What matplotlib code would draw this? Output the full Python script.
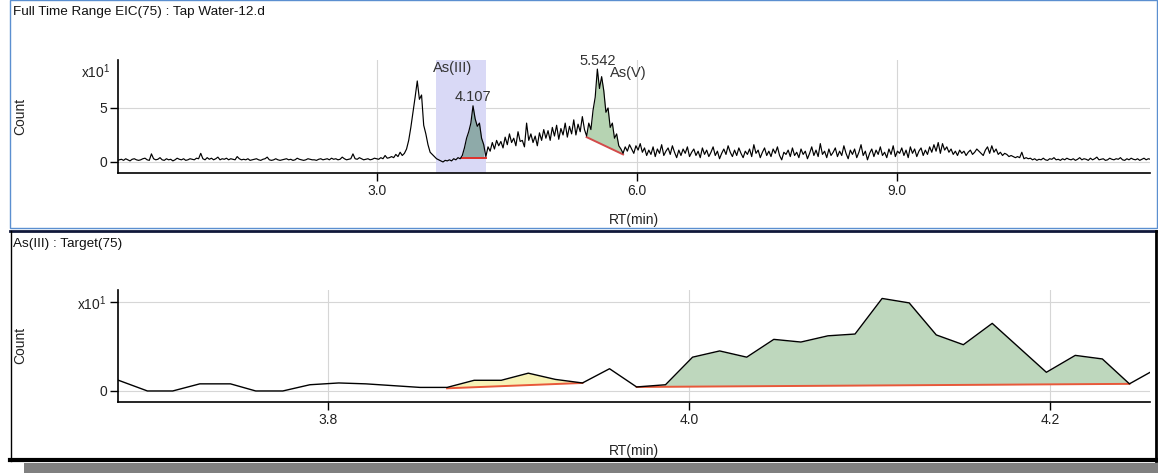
import numpy as np
import matplotlib
matplotlib.use("Agg")
import matplotlib.pyplot as plt
from matplotlib.patches import Rectangle
from matplotlib.lines import Line2D

plt.rcParams["font.family"] = ["Liberation Sans", "DejaVu Sans"]
plt.rcParams["font.size"] = 10
plt.rcParams["mathtext.fontset"] = "custom"
plt.rcParams["mathtext.rm"] = "Liberation Sans"
plt.rcParams["mathtext.it"] = "Liberation Sans"

# --- full time range EIC (counts x10^1), one value per scan, scan step in min ---
scan_step = 0.024741
eic_start = [
    0.1, 0.2, 0.25, 0.15, 0.3, 0.2, 0.1, 0.25, 0.3, 0.2, 0.15, 0.2, 0.3, 0.35, 0.2, 0.15, 0.75, 0.3, 0.2, 0.25,
    0.4, 0.2, 0.15, 0.3, 0.2, 0.25, 0.1, 0.2, 0.35, 0.25, 0.2, 0.3, 0.15, 0.2, 0.3, 0.25, 0.2, 0.35, 0.3, 0.8,
    0.3, 0.2, 0.4, 0.25, 0.35, 0.2, 0.3, 0.45, 0.2, 0.3, 0.25, 0.35, 0.2, 0.3, 0.25, 0.2, 0.5, 0.3, 0.2, 0.25,
    0.2, 0.3, 0.15, 0.2, 0.25, 0.3, 0.2, 0.15, 0.25, 0.3, 0.45, 0.2, 0.15, 0.2, 0.3, 0.2, 0.15, 0.2, 0.25, 0.3,
    0.2, 0.25, 0.15, 0.2, 0.35, 0.25, 0.2, 0.15, 0.2, 0.3, 0.25, 0.2, 0.2, 0.15, 0.25, 0.3, 0.2, 0.25, 0.3, 0.2,
    0.35, 0.25, 0.3, 0.2, 0.25, 0.45, 0.3, 0.2, 0.25, 0.3, 0.75, 0.3, 0.25, 0.4, 0.3, 0.2, 0.25, 0.3, 0.2, 0.25,
    0.35, 0.3, 0.25, 0.4, 0.3, 0.6, 0.35, 0.4, 0.5, 0.4, 0.7, 0.5, 0.9, 0.6,
]
eic_first_peak = [0.8, 1.2, 2.0, 3.2, 4.6, 6.0, 7.5, 5.8, 6.2, 3.4, 2.6, 1.6, 0.9, 0.7]
eic_gap = [0.5, 0.3, 0.2, 0.1, 0.0, 0.15, 0.1, 0.2, 0.1, 0.3, 0.2, 0.4, 0.3]
eic_as3 = [0.6, 1.3, 2.2, 2.8, 3.6, 5.2, 4.0, 3.3, 3.6, 2.2, 1.6, 0.5]
eic_hump = [
    1.4, 1.0, 1.8, 1.2, 2.0, 1.5, 1.9, 1.3, 2.3, 1.6, 2.6, 1.8, 2.2, 1.5, 2.8, 1.9, 2.0, 1.4, 3.6, 2.0,
    2.6, 1.8, 2.4, 1.5, 2.7, 2.0, 3.0, 2.2, 2.9, 2.0, 3.2, 2.4, 3.4, 2.1, 3.1, 2.5, 3.6, 2.3, 3.3, 2.6,
    3.9, 2.5, 3.5, 2.8, 4.2, 3.0,
]
eic_as5 = [2.4, 3.6, 3.0, 4.8, 6.0, 8.6, 6.8, 7.9, 6.6, 4.6, 5.0, 3.2, 3.6, 2.2, 2.6, 1.5, 1.2, 0.8]
eic_mid = [
    1.4, 1.0, 1.6, 1.2, 0.8, 1.5, 1.1, 1.7, 0.9, 1.3, 0.6, 1.1, 0.7, 1.4, 0.5, 1.2, 0.8, 1.6, 0.6, 1.0,
    1.3, 0.7, 1.5, 0.9, 0.4, 1.1, 0.6, 1.2, 0.8, 1.4, 0.5, 0.9, 1.2, 0.6, 1.0, 0.4, 1.3, 0.7, 1.1, 0.5,
    0.9, 1.4, 0.6, 1.0, 0.3, 0.8, 1.2, 0.7, 1.5, 0.9, 0.5, 1.1, 0.6, 1.3, 0.8, 0.4, 1.0, 0.7, 1.2, 0.5,
    1.6, 0.8, 1.1, 0.4, 0.9, 1.3, 0.6, 1.0, 0.5, 1.2, 0.8, 1.4, 0.6, 0.2, 0.9, 0.7, 1.1, 0.5, 1.3, 0.6,
    0.9, 0.4, 1.2, 0.7, 1.0, 0.3, 0.8, 1.4, 0.6, 1.1, 0.5, 1.7, 0.7, 1.0, 0.4, 1.2, 0.6, 0.9, 1.3, 0.5,
    1.0, 0.6, 1.5, 0.8, 0.3, 1.1, 0.7, 1.2, 0.4, 0.9, 1.6, 0.6, 1.0, 0.2, 0.8, 1.2, 0.5, 1.1, 0.7, 1.4,
    0.6, 0.9, 0.4, 1.2, 0.7, 1.5, 0.5, 1.0, 0.8, 1.3, 0.6, 1.1, 0.4, 1.4, 0.8, 1.2, 0.5, 1.0, 1.3, 0.6,
    1.1, 0.7, 1.4, 0.9, 1.6, 1.0, 1.8, 0.8, 1.7, 1.1, 1.4, 0.9, 1.2, 0.7, 1.0, 0.6, 1.1, 0.8, 1.0, 0.6,
    0.9, 1.1, 0.7, 0.9, 1.2, 1.0, 0.8, 0.6, 1.1, 1.4, 0.8, 1.5, 0.9, 1.2, 0.7, 0.9, 0.6, 0.8, 0.7, 0.5,
    0.6, 0.5, 0.4, 0.5, 0.4, 0.9, 0.3, 0.4, 0.3, 0.35,
]
eic_tail = [
    0.2, 0.3, 0.15, 0.25, 0.2, 0.35, 0.2, 0.15, 0.3, 0.25, 0.4, 0.2, 0.25, 0.15, 0.3, 0.2, 0.35, 0.25, 0.2, 0.3,
    0.15, 0.25, 0.4, 0.2, 0.3, 0.25, 0.15, 0.35, 0.2, 0.3, 0.45, 0.2, 0.25, 0.3, 0.15, 0.2, 0.35, 0.25, 0.2, 0.3,
    0.25, 0.4, 0.2, 0.15, 0.3, 0.2, 0.35, 0.25, 0.2, 0.3, 0.15, 0.25, 0.35, 0.2, 0.3, 0.25,
]

# integrated peaks in the full range EIC
peak_names = ["As(III)", "As(V)"]
peak_rt = [4.107, 5.542]
peak_start = [3.983, 5.418]
peak_end = [4.255, 5.839]
peak_base_start = [0.37, 2.3]
peak_base_end = [0.37, 0.7]

# --- As(III) target window ---
win_rt = [3.684, 3.700, 3.714, 3.729, 3.746, 3.760, 3.775, 3.790, 3.806, 3.821,
          3.836, 3.851, 3.866, 3.881, 3.896, 3.911, 3.926, 3.941, 3.956, 3.971,
          3.987, 4.002, 4.017, 4.032, 4.047, 4.062, 4.077, 4.092, 4.107, 4.122,
          4.137, 4.152, 4.168, 4.198, 4.214, 4.229, 4.244, 4.259]
win_count = [0.12, 0.0, 0.0, 0.08, 0.08, 0.0, 0.0, 0.07, 0.09, 0.08,
             0.06, 0.04, 0.04, 0.12, 0.12, 0.20, 0.13, 0.09, 0.25, 0.045,
             0.07, 0.38, 0.45, 0.38, 0.58, 0.55, 0.62, 0.64, 1.04, 0.99,
             0.63, 0.52, 0.76, 0.21, 0.40, 0.36, 0.08, 0.25]
win_peak_start = [3.866, 3.971]
win_peak_end = [3.941, 4.244]
win_base_start = [0.03, 0.045]
win_base_end = [0.09, 0.08]
win_peak_colors = ["#f7f2b6", "#bed7bd"]

eic = np.array(eic_start + eic_first_peak + eic_gap + eic_as3 + eic_hump + eic_as5 + eic_mid + eic_tail)
assert len(eic) == 483
rt = np.arange(len(eic)) * scan_step
win_rt = np.array(win_rt)
win_count = np.array(win_count)

W, H = 1158, 473
fig = plt.figure(figsize=(W / 100, H / 100), dpi=100)
fig.patch.set_facecolor("white")


def fx(x):
    return x / W


def fy(y):
    return 1 - y / H


def style_axes(ax):
    for s in ("top", "right"):
        ax.spines[s].set_visible(False)
    for s in ("left", "bottom"):
        ax.spines[s].set_color("black")
        ax.spines[s].set_linewidth(1.2)
    ax.tick_params(direction="out", length=6, width=1, color="black", labelsize=10, pad=2,
                   labelcolor="#222222")
    ax.grid(True, color="#d6d6d6", lw=0.8)
    ax.set_axisbelow(True)


def shade_peak(ax, t, y, t0, t1, b0, b1, color, base_color="#e0312a"):
    m = (t >= t0 - 1e-6) & (t <= t1 + 1e-6)
    base = np.interp(t[m], [t0, t1], [b0, b1])
    ax.fill_between(t[m], base, y[m], where=y[m] >= base, interpolate=True,
                    color=color, lw=0, zorder=2)
    ax.plot([t0, t1], [b0, b1], color=base_color, lw=1.4, zorder=3)


# ---------- full time range ----------
ax1 = fig.add_axes([fx(118), fy(173), fx(1150 - 118), (173 - 60) / H])
style_axes(ax1)
ax1.set_xlim(0.01, 11.92)
ax1.set_ylim(-1.02, 9.44)
ax1.set_xticks([3.0, 6.0, 9.0])
ax1.set_xticklabels(["3.0", "6.0", "9.0"])
ax1.set_yticks([0, 5])
ax1.set_yticklabels(["0", "5"])

# target window highlight
ax1.axvspan(win_rt[0], 4.255, color="#d9d9f6", lw=0, zorder=1)
shade_peak(ax1, rt, eic, peak_start[0], peak_end[0], peak_base_start[0], peak_base_end[0], "#8eaaa9")
shade_peak(ax1, rt, eic, peak_start[1], peak_end[1], peak_base_start[1], peak_base_end[1], "#b6d3b2",
           base_color="#d34a4a")
ax1.plot(rt, eic, color="black", lw=0.85, zorder=4)

for rt_val in peak_rt:
    apex = eic[np.argmin(np.abs(rt - rt_val))]
    ax1.annotate(f"{rt_val:.3f}", (rt_val, apex), xytext=(0, 1), textcoords="offset points",
                 ha="center", va="bottom", fontsize=10.5, color="#333333", annotation_clip=False)
ax1.text(3.65, 8.7, peak_names[0], ha="left", va="center", fontsize=10.5, color="#333333")
ax1.text(5.69, 8.2, peak_names[1], ha="left", va="center", fontsize=10.5, color="#333333",
         clip_on=False)
ax1.text(-0.08, 8.33, "x10$^{1}$", transform=ax1.transData, ha="right", va="center",
         fontsize=10, color="#222222")

fig.text(fx(13), fy(12), "Full Time Range EIC(75) : Tap Water-12.d", ha="left", va="center",
         fontsize=9.7, color="#111111")
fig.text(fx(20), fy(116), "Count", rotation=90, ha="center", va="center", fontsize=10, color="#222222")
fig.text(fx(634), fy(220), "RT(min)", ha="center", va="center", fontsize=10, color="#222222")

# ---------- As(III) window ----------
ax2 = fig.add_axes([fx(118), fy(402), fx(1150 - 118), (402 - 290) / H])
style_axes(ax2)
ax2.set_xlim(3.6837, 4.2554)
ax2.set_ylim(-0.124, 1.135)
ax2.set_xticks([3.8, 4.0, 4.2])
ax2.set_xticklabels(["3.8", "4.0", "4.2"])
ax2.set_yticks([0, 1])
ax2.set_yticklabels(["0", "x10$^{1}$"])

for i in range(len(win_peak_start)):
    shade_peak(ax2, win_rt, win_count, win_peak_start[i], win_peak_end[i],
               win_base_start[i], win_base_end[i], win_peak_colors[i], base_color="#e8583a")
ax2.plot(win_rt, win_count, color="black", lw=1.0, zorder=4)

fig.text(fx(13), fy(244), "As(III) : Target(75)", ha="left", va="center", fontsize=9.7, color="#111111")
fig.text(fx(20), fy(345), "Count", rotation=90, ha="center", va="center", fontsize=10, color="#222222")
fig.text(fx(634), fy(451), "RT(min)", ha="center", va="center", fontsize=10, color="#222222")

# ---------- panel frames ----------
fig.add_artist(Rectangle((fx(10), fy(228)), fx(1147), (228 - 0.5) / H, transform=fig.transFigure,
                         fill=False, ec="#5b8fd0", lw=1.0))
fig.add_artist(Line2D([fx(10), fx(1157)], [fy(231), fy(231)], color="#10183a", lw=2.0))
fig.add_artist(Line2D([fx(10.5), fx(10.5)], [fy(231), fy(461)], color="black", lw=1.0))
fig.add_artist(Line2D([fx(1156), fx(1156)], [fy(231), fy(461)], color="black", lw=2.0))
fig.add_artist(Line2D([fx(10), fx(1157)], [fy(460), fy(460)], color="black", lw=3.0))
fig.add_artist(Rectangle((fx(24), 0), fx(1158 - 24), (473 - 462.5) / H, transform=fig.transFigure,
                         fc="#808080", ec="none"))

fig.savefig("out.png", dpi=100)
